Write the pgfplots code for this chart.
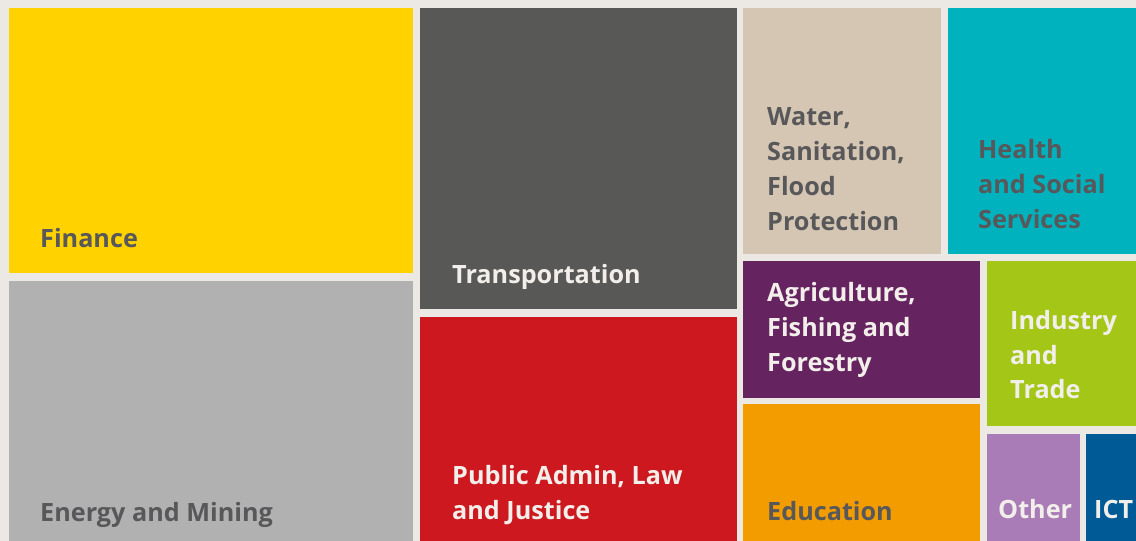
\documentclass[border=0pt]{standalone}
\usepackage{fontspec}
\setmainfont{Open Sans}
\usepackage{pgfplots}
\pgfplotsset{compat=1.18}

\definecolor{bgc}{HTML}{ECE8E4}
\definecolor{cfin}{HTML}{FFD200}
\definecolor{cene}{HTML}{B1B1B1}
\definecolor{ctra}{HTML}{585856}
\definecolor{cpub}{HTML}{CC181E}
\definecolor{cwat}{HTML}{D5C6B3}
\definecolor{chea}{HTML}{00B2BD}
\definecolor{cagr}{HTML}{652360}
\definecolor{cind}{HTML}{A3C617}
\definecolor{cedu}{HTML}{F39C00}
\definecolor{coth}{HTML}{AA7CB7}
\definecolor{cict}{HTML}{005A96}
\definecolor{tdark}{HTML}{58585A}
\definecolor{tlight}{HTML}{F2EEEA}

\tikzset{lbl/.style={anchor=base west, inner sep=0pt, font=\fontsize{25.2}{35}\selectfont\bfseries}}

\begin{document}
\begin{tikzpicture}
\begin{axis}[
    scale only axis, width=1136pt, height=541pt,
    xmin=0, xmax=1136, ymin=0, ymax=541,
    axis line style={draw=none}, ticks=none,
    axis background/.style={fill=bgc},
    clip=true,
]
% tiles: (left,bottom) (right,bottom) (right,top) (left,top)
\addplot[fill=cfin, draw=none] coordinates {(9,268)(413,268)(413,533)(9,533)};
\addplot[fill=cene, draw=none] coordinates {(9,-5)(413,-5)(413,260)(9,260)};
\addplot[fill=ctra, draw=none] coordinates {(420,232)(737,232)(737,533)(420,533)};
\addplot[fill=cpub, draw=none] coordinates {(420,-5)(737,-5)(737,224)(420,224)};
\addplot[fill=cwat, draw=none] coordinates {(743,287)(941,287)(941,533)(743,533)};
\addplot[fill=chea, draw=none] coordinates {(948,287)(1141,287)(1141,533)(948,533)};
\addplot[fill=cagr, draw=none] coordinates {(743,143)(980,143)(980,280)(743,280)};
\addplot[fill=cind, draw=none] coordinates {(987,115)(1141,115)(1141,280)(987,280)};
\addplot[fill=cedu, draw=none] coordinates {(743,-5)(980,-5)(980,137)(743,137)};
\addplot[fill=coth, draw=none] coordinates {(987,-5)(1080,-5)(1080,107)(987,107)};
\addplot[fill=cict, draw=none] coordinates {(1086,-5)(1141,-5)(1141,107)(1086,107)};

\node[lbl, text=tdark] at (axis cs:40,293) {Finance};
\node[lbl, text=tdark] at (axis cs:40,19) {Energy and Mining};
\node[lbl, text=tlight] at (axis cs:452,257) {Transportation};
\node[lbl, text=tlight] at (axis cs:452,56) {Public Admin, Law};
\node[lbl, text=tlight] at (axis cs:452,21) {and Justice};
\node[lbl, text=tdark] at (axis cs:767,415) {Water,};
\node[lbl, text=tdark] at (axis cs:767,380) {Sanitation,};
\node[lbl, text=tdark] at (axis cs:767,345) {Flood};
\node[lbl, text=tdark] at (axis cs:767,310) {Protection};
\node[lbl, text=tdark] at (axis cs:978,382) {Health};
\node[lbl, text=tdark] at (axis cs:978,347) {and Social};
\node[lbl, text=tdark] at (axis cs:978,312) {Services};
\node[lbl, text=tlight] at (axis cs:767,239) {Agriculture,};
\node[lbl, text=tlight] at (axis cs:767,204) {Fishing and};
\node[lbl, text=tlight] at (axis cs:767,169) {Forestry};
\node[lbl, text=tlight] at (axis cs:1010,211) {Industry};
\node[lbl, text=tlight] at (axis cs:1010,176) {and};
\node[lbl, text=tlight] at (axis cs:1010,142) {Trade};
\node[lbl, text=tdark] at (axis cs:767,20) {Education};
\node[lbl, text=tlight] at (axis cs:998,22) {Other};
\node[lbl, text=tlight] at (axis cs:1094,22) {ICT};
\end{axis}
\end{tikzpicture}
\end{document}
